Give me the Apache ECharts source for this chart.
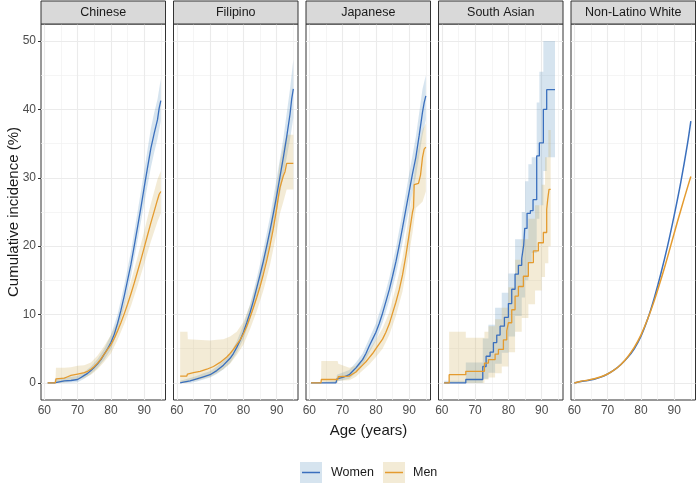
<!DOCTYPE html>
<html><head><meta charset="utf-8">
<script src="https://cdn.jsdelivr.net/npm/echarts@6/dist/echarts.min.js"></script>
<style>html,body{margin:0;padding:0;background:#fff}#c{width:698px;height:485px}</style>
</head><body><div id="c"></div>
<script>
// ---------------- DATA ----------------
const groups = ['Chinese', 'Filipino', 'Japanese', 'South Asian', 'Non-Latino White'];
const sexes = ['Women', 'Men'];
const xTicks = [60, 70, 80, 90];
const xMinor = [65, 75, 85, 95];
const yTicks = [0, 10, 20, 30, 40, 50];
const yMinor = [5, 15, 25, 35, 45];

// [age, cumulative incidence %]
const chineseWomen = [[61,0],[63,0],[63.2,0.25],[66,0.3],[68,0.35],[70,0.5],[71,0.8],[72,1.1],[73,1.4],[74,1.8],[75,2.3],[76,2.8],[77,3.4],[78,4.2],[79,5.0],[80,5.9],[81,7.1],[82,8.7],[83,10.6],[84,12.7],[85,15.0],[86,17.3],[87,20.0],[88,22.8],[89,25.6],[90,28.6],[91,31.5],[92,34.3],[93,36.5],[94,38.5],[94.5,40.2],[95,41.3]];
const chineseMen = [[61,0],[63.3,0],[63.5,0.6],[66,0.7],[67,0.9],[68,1.1],[70,1.3],[72,1.5],[73,1.7],[74,2.0],[75,2.4],[76,2.9],[77,3.5],[78,4.2],[79,4.9],[80,5.6],[81,6.5],[82,7.6],[83,8.8],[84,10.1],[85,11.5],[86,13.0],[87,14.6],[88,16.3],[89,18.0],[90,19.8],[91,21.6],[92,23.4],[93,25.1],[94,26.8],[94.5,27.6],[95,28.0]];
const filipinoWomen = [[61,0],[62,0.1],[64,0.3],[66,0.6],[68,0.9],[70,1.2],[72,1.8],[74,2.6],[76,3.6],[77,4.3],[78,5.2],[79,6.2],[80,7.4],[81,8.8],[82,10.3],[83,12.0],[84,13.9],[85,15.8],[86,17.8],[87,20.0],[88,22.3],[89,24.8],[90,27.4],[91,30.2],[92,33.0],[93,36.0],[94,39.3],[94.5,41.5],[95,43.0]];
const filipinoMen = [[61,1.0],[63,1.0],[63.2,1.3],[65,1.5],[67,1.7],[69,2.0],[71,2.4],[73,3.0],[75,3.8],[76,4.3],[77,4.9],[78,5.6],[79,6.3],[80,7.2],[81,8.3],[82,9.6],[83,11.0],[84,12.5],[85,14.1],[86,15.9],[87,17.9],[88,20.1],[89,22.6],[90,25.5],[90.5,27.2],[91,28.6],[92,30.3],[92.5,30.9],[93,32.1],[95,32.1]];
const japaneseWomen = [[60.5,0],[68,0],[68.3,0.6],[70,0.8],[71,1.0],[72,1.2],[73,1.7],[74,2.2],[75,2.8],[76,3.4],[77,4.3],[78,5.4],[79,6.4],[80,7.4],[81,8.7],[82,10.2],[83,11.9],[84,13.6],[85,15.6],[86,17.7],[87,20.1],[88,22.7],[89,25.4],[90,28.0],[91,30.6],[92,33.0],[93,36.2],[94,39.6],[94.5,41.0],[95,42.0]];
const japaneseMen = [[60.5,0],[63.5,0],[63.6,0.5],[68.5,0.5],[68.7,0.9],[72,1.0],[73,1.3],[74,1.6],[75,2.1],[76,2.6],[77,3.1],[78,3.7],[79,4.3],[80,5.0],[81,5.7],[82,6.4],[83,7.4],[84,8.6],[85,10.2],[86,11.8],[87,13.6],[88,15.8],[89,18.6],[90,21.8],[91,25.0],[91.3,25.6],[91.5,29.0],[92.8,29.2],[93,29.6],[93.4,30.4],[94,33.0],[94.5,34.2],[95,34.5]];
const southAsianWomen = [[60.7,0],[67.2,0.5],[72.3,2.4],[73.3,3.9],[74.5,4.5],[75.5,5.9],[76.5,7.0],[77.5,8.3],[78.8,9.6],[80,11.6],[81,13.7],[82,15.9],[83,17.2],[84,18.2],[84.6,20.2],[84.9,22.6],[85.6,24.8],[86.6,25.2],[87.4,26.8],[88.5,33.2],[89.3,35.1],[90.5,40.0],[91.5,42.9],[94,42.9]];
const southAsianMen = [[60.7,0],[62.2,1.2],[67.2,1.7],[72.8,2.9],[74,3.4],[76,4.2],[77,4.9],[78.5,6.3],[79.5,7.6],[80,8.8],[81,10.7],[82,12.7],[83,14.1],[84.5,15.6],[86,17.6],[87.5,19.3],[89,20.5],[90.5,22.0],[91.5,25.4],[91.8,26.8],[92.2,28.3],[92.7,28.3]];
const nlwWomen = [[60,0],[62,0.2],[64,0.35],[66,0.55],[68,0.85],[70,1.3],[72,1.9],[74,2.7],[76,3.7],[78,5.0],[80,6.8],[82,9.3],[84,12.4],[86,16.0],[88,20.0],[90,24.5],[92,29.4],[94,35.0],[95,38.3]];
const nlwMen = [[60,0],[62,0.25],[64,0.4],[66,0.6],[68,0.9],[70,1.3],[72,1.9],[74,2.7],[76,3.8],[78,5.2],[80,7.0],[82,9.3],[84,12.0],[86,15.1],[88,18.4],[90,21.9],[92,25.3],[94,28.6],[95,30.2]];

// confidence bands: [age, lower, upper]
const chineseWomenCI = [[61,0,0],[63,0,0.1],[63.2,0,0.6],[66,0,0.8],[70,0.1,1.0],[72,0.6,1.6],[74,1.3,2.4],[76,2.2,3.5],[78,3.4,5.0],[80,4.9,7.0],[82,7.5,10.0],[84,11.2,14.3],[86,15.5,19.2],[88,20.8,25.0],[90,26.2,31.0],[92,31.5,37.2],[93,33.7,39.5],[94,35.7,41.5],[95,38.3,44.5]];
const chineseMenCI = [[61,0,0],[63.3,0,0],[63.5,0,2.2],[66,0.1,2.2],[68,0.3,2.3],[70,0.5,2.5],[72,0.7,2.6],[74,1.2,3.0],[76,2.0,4.0],[78,3.1,5.4],[80,4.3,7.0],[82,6.3,9.0],[84,8.6,11.7],[86,11.2,14.8],[88,14.2,18.4],[90,17.4,22.2],[92,20.7,26.2],[94,23.6,29.8],[95,24.8,31.0]];
const filipinoWomenCI = [[61,0,0.3],[64,0,0.7],[66,0.2,1.0],[68,0.5,1.4],[70,0.8,1.7],[72,1.3,2.4],[74,2.0,3.2],[76,2.9,4.3],[78,4.4,6.1],[80,6.4,8.5],[82,9.2,11.5],[84,12.6,15.3],[86,16.2,19.5],[88,20.4,24.3],[90,25.1,29.9],[92,30.3,35.8],[94,35.6,43.0],[95,38.8,47.3]];
const filipinoMenCI = [[61,0,7.5],[63.2,0,7.5],[63.3,0.2,6.4],[66,0.4,6.3],[70,0.9,6.2],[72,1.4,6.3],[74,2.0,6.4],[76,2.8,6.8],[78,4.1,7.5],[80,5.6,8.9],[82,7.9,11.4],[84,10.5,14.6],[86,13.5,18.4],[88,17.3,23.0],[90,22.0,28.8],[91,24.8,32.4],[92,26.5,34.5],[93,28.3,36.3],[95,28.3,36.3]];
const japaneseWomenCI = [[60.5,0,0],[68,0,0.3],[68.3,0.2,1.2],[72,0.6,1.9],[74,1.5,3.0],[76,2.6,4.3],[78,4.4,6.5],[80,6.2,8.7],[82,8.8,11.7],[84,12.0,15.3],[86,15.8,19.7],[88,20.5,25.0],[90,25.5,30.6],[92,30.2,36.0],[94,36.2,43.0],[95,38.5,45.0]];
const japaneseMenCI = [[60.5,0,0],[63.5,0,0],[63.6,0,3.2],[68.5,0,3.2],[68.7,0.3,2.8],[72,0.4,2.2],[74,0.9,2.5],[76,1.8,3.6],[78,2.7,4.8],[80,3.8,6.3],[82,5.0,8.0],[84,7.0,10.3],[86,9.8,14.0],[88,13.4,18.3],[90,19.0,24.7],[91,22.0,28.0],[92,25.6,32.5],[94,26.5,37.0],[95,28.0,38.0]];
const southAsianWomenCI = [[60.7,0,0.3],[67.2,0,3.0],[72.3,0.6,6.5],[74,1.5,8.5],[76,2.8,11.0],[78,4.4,13.2],[80,6.8,16.0],[82,9.8,21.0],[84,12.5,25.0],[85,15.0,29.5],[86,17.5,32.0],[87,19.0,33.0],[88.5,24.0,41.0],[89.3,26.0,45.5],[90.5,31.0,50.0],[91.5,33.0,50.0],[94,33.0,50.0]];
const southAsianMenCI = [[60.7,0,0],[62.2,0,7.5],[67.2,0,6.6],[72.8,0.5,7.5],[74,0.8,8.3],[76,1.4,9.3],[78,2.4,11.0],[80,4.5,14.0],[82,7.5,18.0],[84,9.5,21.0],[86,11.5,24.0],[88,13.5,26.0],[90,15.5,29.0],[91,17.5,33.0],[92,20.0,37.0],[92.7,20.0,37.0]];

// ---------------- CHART ----------------
const curves = {
  'Chinese': {Women: chineseWomen, Men: chineseMen},
  'Filipino': {Women: filipinoWomen, Men: filipinoMen},
  'Japanese': {Women: japaneseWomen, Men: japaneseMen},
  'South Asian': {Women: southAsianWomen, Men: southAsianMen},
  'Non-Latino White': {Women: nlwWomen, Men: nlwMen}
};
const bands = {
  'Chinese': {Women: chineseWomenCI, Men: chineseMenCI},
  'Filipino': {Women: filipinoWomenCI, Men: filipinoMenCI},
  'Japanese': {Women: japaneseWomenCI, Men: japaneseMenCI},
  'South Asian': {Women: southAsianWomenCI, Men: southAsianMenCI},
  'Non-Latino White': {}
};
const steppedGroups = ['South Asian'];
const smoothGroups = ['Non-Latino White'];

const FONT = '"Liberation Sans", Arial, Helvetica, sans-serif';
const COLORS = {Women: '#3A6FBD', Men: '#E49B2F'};
const FILLS = {Women: 'rgba(70,130,180,0.22)', Men: 'rgba(200,165,70,0.22)'};
const L0 = 41, STEP = 132.5, PW = 124.5, PT = 24, PH = 376;

const grids = [], xAxes = [], yAxes = [], series = [], graphics = [];

function bandSeries(band, gi, fill, stepped) {
  return {
    type: 'custom', xAxisIndex: gi, yAxisIndex: gi, z: 2, silent: true,
    data: band, encode: {x: 0, y: [1, 2]},
    renderItem: function (params, api) {
      if (params.dataIndex !== 0) return null;
      const up = [], lo = [];
      for (let i = 0; i < band.length; i++) {
        const x = band[i][0], l = band[i][1], h = band[i][2];
        up.push(api.coord([x, h]));
        lo.push(api.coord([x, l]));
        if (stepped && i < band.length - 1) {
          const xn = band[i + 1][0];
          up.push(api.coord([xn, h]));
          lo.push(api.coord([xn, l]));
        }
      }
      return {type: 'polygon', shape: {points: up.concat(lo.reverse())}, style: {fill: fill, stroke: null}};
    }
  };
}

groups.forEach(function (g, gi) {
  const left = L0 + gi * STEP;
  const stepped = steppedGroups.indexOf(g) >= 0;
  const smooth = smoothGroups.indexOf(g) >= 0;
  grids.push({left: left, top: PT, width: PW, height: PH, show: true, borderColor: '#333333', borderWidth: 1, backgroundColor: '#ffffff'});
  xAxes.push({
    type: 'value', gridIndex: gi, min: 59, max: 96.4,
    axisLine: {show: false}, splitLine: {show: false},
    axisTick: {show: true, customValues: xTicks, length: 3, lineStyle: {color: '#333333'}},
    axisLabel: {customValues: xTicks, color: '#4D4D4D', fontSize: 12, fontFamily: FONT, margin: 5}
  });
  yAxes.push({
    type: 'value', gridIndex: gi, min: -2.5, max: 52.5,
    axisLine: {show: false}, splitLine: {show: false},
    axisTick: {show: gi === 0, customValues: yTicks, length: 3, lineStyle: {color: '#333333'}},
    axisLabel: {show: gi === 0, customValues: yTicks, color: '#4D4D4D', fontSize: 12, fontFamily: FONT, margin: 5}
  });
  const major = {color: '#EBEBEB', width: 1.1, type: 'solid'};
  const minor = {color: '#F1F1F1', width: 0.7, type: 'solid'};
  const ml = []
    .concat(xMinor.map(v => ({xAxis: v, lineStyle: minor})))
    .concat(yMinor.map(v => ({yAxis: v, lineStyle: minor})))
    .concat(xTicks.map(v => ({xAxis: v, lineStyle: major})))
    .concat(yTicks.map(v => ({yAxis: v, lineStyle: major})));
  series.push({
    type: 'line', xAxisIndex: gi, yAxisIndex: gi, data: [], silent: true, z: 1,
    markLine: {silent: true, symbol: ['none', 'none'], animation: false, z: 1, label: {show: false}, data: ml}
  });
  sexes.forEach(function (s) {
    if (bands[g][s]) series.push(bandSeries(bands[g][s], gi, FILLS[s], stepped));
  });
  sexes.forEach(function (s) {
    series.push({
      type: 'line', name: s, xAxisIndex: gi, yAxisIndex: gi, z: 3, silent: true,
      data: curves[g][s], symbol: 'none', showSymbol: false,
      step: stepped ? 'end' : false, smooth: smooth ? 0.35 : false,
      lineStyle: {color: COLORS[s], width: smooth ? 1.5 : 1.3}, itemStyle: {color: COLORS[s]}
    });
  });
  // facet strip
  graphics.push({type: 'rect', shape: {x: left, y: 1, width: PW, height: PT - 1}, style: {fill: '#D9D9D9', stroke: '#333333', lineWidth: 1}, z: 10, silent: true});
  graphics.push({type: 'text', x: left + PW / 2, y: 1 + (PT - 1) / 2, style: {text: g, font: '12.5px ' + FONT, fill: '#1A1A1A', textAlign: 'center', textVerticalAlign: 'middle'}, z: 11, silent: true});
});

// axis titles
graphics.push({type: 'text', x: 14, y: PT + PH / 2, rotation: Math.PI / 2, style: {text: 'Cumulative incidence (%)', font: '15px ' + FONT, fill: '#1A1A1A', textAlign: 'center', textVerticalAlign: 'middle'}, silent: true});
graphics.push({type: 'text', x: 368.5, y: 431, style: {text: 'Age (years)', font: '15px ' + FONT, fill: '#1A1A1A', textAlign: 'center', textVerticalAlign: 'middle'}, silent: true});

// legend
const legendKeys = [{s: 'Women', kx: 300, tx: 331}, {s: 'Men', kx: 383, tx: 413}];
legendKeys.forEach(function (k) {
  graphics.push({type: 'rect', shape: {x: k.kx, y: 462, width: 22, height: 21}, style: {fill: FILLS[k.s], stroke: null}, silent: true});
  graphics.push({type: 'line', shape: {x1: k.kx + 2, y1: 472.5, x2: k.kx + 20, y2: 472.5}, style: {stroke: COLORS[k.s], lineWidth: 1.5}, silent: true});
  graphics.push({type: 'text', x: k.tx, y: 472.5, style: {text: k.s, font: '12.5px ' + FONT, fill: '#1A1A1A', textAlign: 'left', textVerticalAlign: 'middle'}, silent: true});
});

const chart = echarts.init(document.getElementById('c'), null, {width: 698, height: 485});
chart.setOption({
  animation: false,
  backgroundColor: '#ffffff',
  grid: grids, xAxis: xAxes, yAxis: yAxes, series: series,
  graphic: {elements: graphics}
});
</script></body></html>
